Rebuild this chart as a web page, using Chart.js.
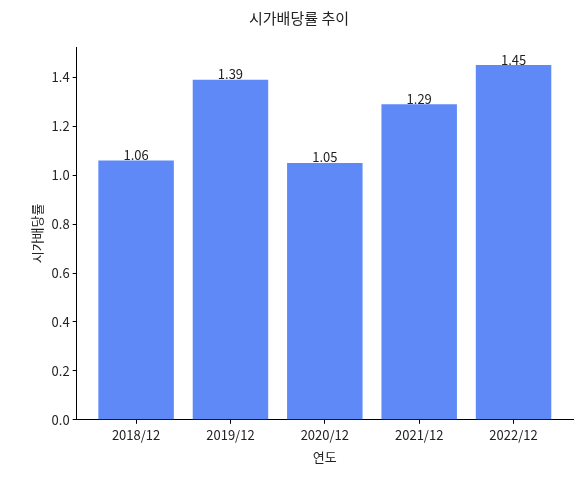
<!DOCTYPE html>
<html><head><meta charset="utf-8">
<script src="https://cdn.jsdelivr.net/npm/chart.js@4/dist/chart.umd.min.js"></script>
<style>html,body{margin:0;padding:0;background:#fff}#w{width:582px;height:479px}</style>
</head><body><div id="w"><canvas id="c"></canvas></div>
<script>
const categories = ["2018/12","2019/12","2020/12","2021/12","2022/12"];
const values = [1.06, 1.39, 1.05, 1.29, 1.45];
const yTicks = [0,0.2,0.4,0.6,0.8,1.0,1.2,1.4];
const F = "'Noto Sans CJK KR', 'Noto Sans', sans-serif";
const labelPlugin = {
  id:'lbl',
  afterDatasetsDraw(chart){
    const ctx=chart.ctx, meta=chart.getDatasetMeta(0);
    ctx.save(); ctx.font="13px "+F; ctx.fillStyle="#222"; ctx.textAlign="center"; ctx.textBaseline="bottom";
    meta.data.forEach((b,i)=>ctx.fillText(values[i].toFixed(2), b.x, b.y+1));
    ctx.restore();
  }
};
new Chart(document.getElementById('c'),{
  type:'bar',
  data:{datasets:[{data:values.map((v,i)=>({x:i,y:v})),backgroundColor:'#5f89f7',borderWidth:0,barPercentage:0.8,categoryPercentage:1}]},
  options:{responsive:true,maintainAspectRatio:false,animation:false,
    layout:{padding:{left:25,right:9,top:9,bottom:10}},
    plugins:{legend:{display:false},tooltip:{enabled:false},
      title:{display:true,text:'시가배당률 추이',font:{family:F,size:15,weight:'normal'},color:'#222',padding:{top:0,bottom:20}}},
    scales:{
      x:{type:'linear',min:-0.63,max:4.63,offset:false,
        afterBuildTicks(a){a.ticks=categories.map((_,i)=>({value:i}));},
        ticks:{callback:(v)=>categories[v],font:{family:F,size:13},color:'#222',autoSkip:false,maxRotation:0},
        grid:{display:true,offset:false,drawOnChartArea:false,tickLength:4,color:'#000'},
        border:{color:'#000'},
        title:{display:true,text:'연도',font:{family:F,size:13},color:'#222'}},
      y:{min:0,max:1.524,
        afterBuildTicks(a){a.ticks=yTicks.map(v=>({value:v}));},
        ticks:{callback:v=>v.toFixed(1),font:{family:F,size:13},color:'#222'},
        grid:{display:true,drawOnChartArea:false,tickLength:4,color:'#000'},
        border:{color:'#000'},
        title:{display:true,text:'시가배당률',font:{family:F,size:13},color:'#222'}}
    }},
  plugins:[labelPlugin]
});
</script></body></html>
